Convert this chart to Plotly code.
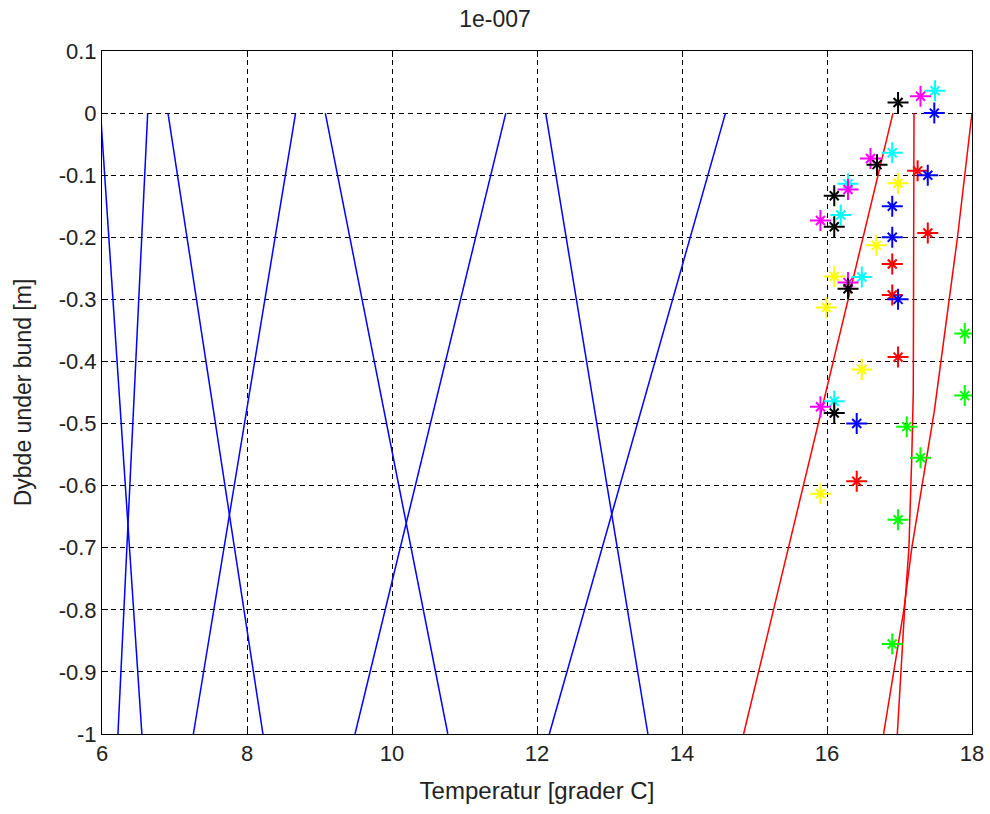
import plotly.graph_objects as go

# Modelled temperature profiles (blue): temperature at the top (0 m) and bottom (-1 m)
blue_top = [5.98, 6.63, 6.91, 8.67, 9.08, 11.57, 12.12, 14.60]
blue_bottom = [6.55, 6.22, 8.22, 7.26, 10.77, 9.49, 13.53, 12.17]
blue_depth = [0.0, -1.0]

# Fitted profiles (red)
red1_depth = [0.0, -1.0]
red1_temp = [16.91, 14.85]
red2_depth = [0.0, -0.30, -0.45, -0.55, -0.70, -0.80, -0.90, -1.0]
red2_temp = [17.20, 17.20, 17.19, 17.17, 17.13, 17.07, 17.02, 16.97]
red3_depth = [0.0, -0.20, -0.48, -0.70, -0.80, -0.90, -1.0]
red3_temp = [18.00, 17.80, 17.48, 17.17, 17.06, 16.92, 16.78]

# Measured sensor temperatures and depths
sensors = {
    "#00ff00": ([-0.355, -0.455, -0.505, -0.555, -0.655, -0.855],
                [17.90, 17.90, 17.10, 17.29, 16.98, 16.90]),
    "#ffff00": ([-0.113, -0.213, -0.263, -0.313, -0.413, -0.613],
                [16.98, 16.68, 16.10, 15.99, 16.48, 15.91]),
    "#ff0000": ([-0.093, -0.193, -0.243, -0.293, -0.393, -0.593],
                [17.25, 17.39, 16.90, 16.90, 16.98, 16.41]),
    "#0000ff": ([0.0, -0.100, -0.150, -0.200, -0.300, -0.500],
                [17.48, 17.39, 16.90, 16.90, 16.98, 16.41]),
    "#00ffff": ([0.036, -0.064, -0.114, -0.164, -0.264, -0.464],
                [17.49, 16.90, 16.29, 16.19, 16.48, 16.10]),
    "#ff00ff": ([0.027, -0.073, -0.123, -0.173, -0.273, -0.473],
                [17.29, 16.60, 16.29, 15.91, 16.29, 15.91]),
    "#000000": ([0.017, -0.083, -0.133, -0.183, -0.283, -0.483],
                [16.98, 16.69, 16.10, 16.10, 16.29, 16.10]),
}

x_ticks = [6, 8, 10, 12, 14, 16, 18]
y_ticks = [0.1, 0.0, -0.1, -0.2, -0.3, -0.4, -0.5, -0.6, -0.7, -0.8, -0.9, -1.0]

fig = go.Figure()

for t0, t1 in zip(blue_top, blue_bottom):
    fig.add_trace(go.Scatter(x=[t0, t1], y=blue_depth, mode="lines",
                             line=dict(color="#0000ff", width=1.5)))

for temps, depths in [(red1_temp, red1_depth), (red2_temp, red2_depth), (red3_temp, red3_depth)]:
    fig.add_trace(go.Scatter(x=temps, y=depths, mode="lines",
                             line=dict(color="#ff0000", width=1.5)))

# '*' style marker: long plus arms with short diagonals
for color, (depths, temps) in sensors.items():
    fig.add_trace(go.Scatter(x=temps, y=depths, mode="markers",
                             marker=dict(symbol="cross-thin-open", size=15,
                                         color=color, line=dict(color=color, width=2))))
    fig.add_trace(go.Scatter(x=temps, y=depths, mode="markers",
                             marker=dict(symbol="x-thin-open", size=9,
                                         color=color, line=dict(color=color, width=2))))

font = "Liberation Sans, Arial, sans-serif"
axis_common = dict(
    showline=True, linecolor="black", linewidth=1, mirror="allticks",
    ticks="inside", ticklen=6, tickcolor="black", tickwidth=1,
    showgrid=True, gridcolor="black", gridwidth=1, griddash="5px,4px",
    zeroline=False, automargin=False,
    tickfont=dict(family=font, size=22, color="#222"),
)

fig.update_layout(
    width=990, height=814,
    margin=dict(l=102, r=18, t=51, b=80),
    paper_bgcolor="white", plot_bgcolor="white",
    showlegend=False,
    title=dict(text="1e-007", x=0.5, xanchor="center", y=0.977, yanchor="middle",
               font=dict(family=font, size=23, color="#222")),
    xaxis=dict(range=[6, 18], tickvals=x_ticks, ticktext=[str(v) for v in x_ticks],
               title=dict(text="Temperatur [grader C]", standoff=16,
                          font=dict(family=font, size=24, color="#222")),
               **axis_common),
    yaxis=dict(range=[-1, 0.1], tickvals=y_ticks,
               ticktext=[("%g" % v) for v in y_ticks],
               title=dict(text="Dybde under bund [m]", standoff=20,
                          font=dict(family=font, size=23, color="#222")),
               **axis_common),
)

fig.write_html("out.html")
